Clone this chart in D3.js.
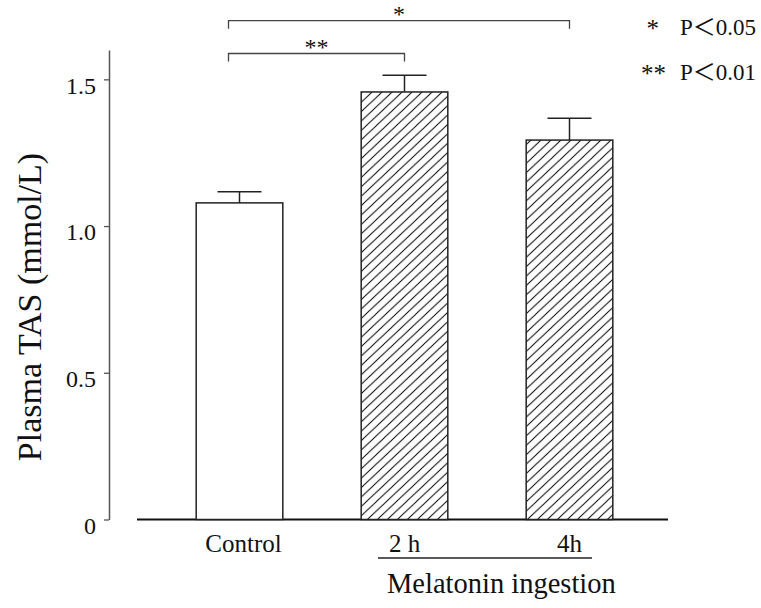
<!DOCTYPE html>
<html>
<head>
<meta charset="utf-8">
<script src="https://cdn.jsdelivr.net/npm/d3@7"></script>
<style>
  body { margin: 0; background: #fff; }
  svg { display: block; font-family: "Liberation Serif", "Times New Roman", serif; }
</style>
</head>
<body>
<div id="chart"></div>
<script>
// data
const categories = ["Control", "2 h", "4h"];
const means = [1.079, 1.457, 1.293];
const errors = [0.038, 0.057, 0.074];
const hatched = [false, true, true];
const yTicks = [0, 0.5, 1.0, 1.5];
const yTickLabels = ["0", "0.5", "1.0", "1.5"];
const comparisons = [
  { from: 0, to: 2, label: "*", level: 1.70 },
  { from: 0, to: 1, label: "**", level: 1.588 }
];
const legendItems = [
  { mark: "*", text: "P＜0.05" },
  { mark: "**", text: "P＜0.01" }
];

const width = 761, height = 608;

const svg = d3.select('#chart')
  .append('svg')
  .attr('width', width)
  .attr('height', height);

// hatch pattern
const defs = svg.append('defs');
const pat = defs.append('pattern')
  .attr('id', 'hatch')
  .attr('patternUnits', 'userSpaceOnUse')
  .attr('width', 10)
  .attr('height', 9.4);
pat.append('rect').attr('width', 10).attr('height', 9.4).attr('fill', '#fff');
pat.append('path')
  .attr('d', 'M-1,10.34 L11,-0.94 M-11,10.34 L1,-0.94 M9,10.34 L21,-0.94')
  .attr('stroke', '#111')
  .attr('stroke-width', 1.1);

const y = d3.scaleLinear()
  .domain([0, 1.6])
  .range([519.5, 50]);

const x = d3.scaleBand()
  .domain(categories)
  .range([157, 652])
  .paddingInner(0.475)
  .paddingOuter(0.2375);

// y axis
const yAxis = d3.axisLeft(y)
  .tickValues(yTicks)
  .tickFormat((d, i) => yTickLabels[i])
  .tickSizeInner(5)
  .tickSizeOuter(0)
  .tickPadding(8);

const gy = svg.append('g')
  .attr('transform', 'translate(109,0)')
  .call(yAxis);
gy.select('.domain').attr('stroke', '#555').attr('stroke-width', 1.5);
gy.selectAll('.tick line').attr('stroke', '#555').attr('stroke-width', 1.3);
gy.selectAll('.tick text')
  .attr('font-family', '"Liberation Serif", serif')
  .attr('font-size', 24)
  .attr('fill', '#111')
  .attr('dy', '0.58em');

// x baseline
svg.append('line')
  .attr('x1', 137).attr('x2', 668)
  .attr('y1', y(0)).attr('y2', y(0))
  .attr('stroke', '#111')
  .attr('stroke-width', 1.8);

// bars
svg.append('g')
  .selectAll('rect')
  .data(categories)
  .join('rect')
  .attr('x', d => x(d))
  .attr('y', (d, i) => y(means[i]))
  .attr('width', x.bandwidth())
  .attr('height', (d, i) => y(0) - y(means[i]))
  .attr('fill', (d, i) => hatched[i] ? 'url(#hatch)' : '#fff')
  .attr('stroke', '#222')
  .attr('stroke-width', 1.5);

// error bars
const capHalf = 22;
const eb = svg.append('g').attr('stroke', '#222').attr('stroke-width', 1.5);
categories.forEach((c, i) => {
  const cx = x(c) + x.bandwidth() / 2;
  eb.append('line')
    .attr('x1', cx).attr('x2', cx)
    .attr('y1', y(means[i])).attr('y2', y(means[i] + errors[i]));
  eb.append('line')
    .attr('x1', cx - capHalf).attr('x2', cx + capHalf)
    .attr('y1', y(means[i] + errors[i])).attr('y2', y(means[i] + errors[i]));
});

// x labels
svg.append('g')
  .selectAll('text')
  .data(categories)
  .join('text')
  .attr('x', (d, i) => x(d) + x.bandwidth() / 2 + (i === 0 ? 4 : 0))
  .attr('y', 552)
  .attr('text-anchor', 'middle')
  .attr('font-size', 25)
  .attr('fill', '#111')
  .text(d => d);

// group line + label for melatonin
svg.append('line')
  .attr('x1', 378).attr('x2', 592)
  .attr('y1', 558).attr('y2', 558)
  .attr('stroke', '#222')
  .attr('stroke-width', 1.5);
svg.append('text')
  .attr('x', 387)
  .attr('y', 593)
  .attr('font-size', 28.5)
  .attr('fill', '#111')
  .text('Melatonin ingestion');

// y axis title
svg.append('text')
  .attr('transform', 'translate(41,307) rotate(-90)')
  .attr('text-anchor', 'middle')
  .attr('font-size', 34)
  .attr('fill', '#111')
  .text('Plasma TAS (mmol/L)');

// significance brackets
const br = svg.append('g');
comparisons.forEach(cmp => {
  const x1 = x(categories[cmp.from]) + x.bandwidth() / 2 - 11;
  const x2 = x(categories[cmp.to]) + x.bandwidth() / 2;
  const by = y(cmp.level);
  br.append('path')
    .attr('d', `M${x1},${by + 8}V${by}H${x2}V${by + 8}`)
    .attr('fill', 'none')
    .attr('stroke', '#444')
    .attr('stroke-width', 1.3);
  br.append('text')
    .attr('x', (x1 + x2) / 2)
    .attr('y', by + 1)
    .attr('text-anchor', 'middle')
    .attr('font-size', 24)
    .attr('fill', '#111')
    .text(cmp.label);
});

// legend
const lg = svg.append('g');
legendItems.forEach((d, i) => {
  const ly = 35 + i * 45;
  lg.append('text')
    .attr('x', i === 0 ? 659 : 666)
    .attr('y', ly + 2)
    .attr('text-anchor', 'end')
    .attr('font-size', 25)
    .attr('fill', '#111')
    .text(d.mark);
  lg.append('text')
    .attr('x', 680)
    .attr('y', ly)
    .attr('font-size', 23)
    .attr('font-family', '"Liberation Serif", "Noto Sans CJK JP", serif')
    .attr('fill', '#111')
    .text(d.text);
});
</script>
</body>
</html>
